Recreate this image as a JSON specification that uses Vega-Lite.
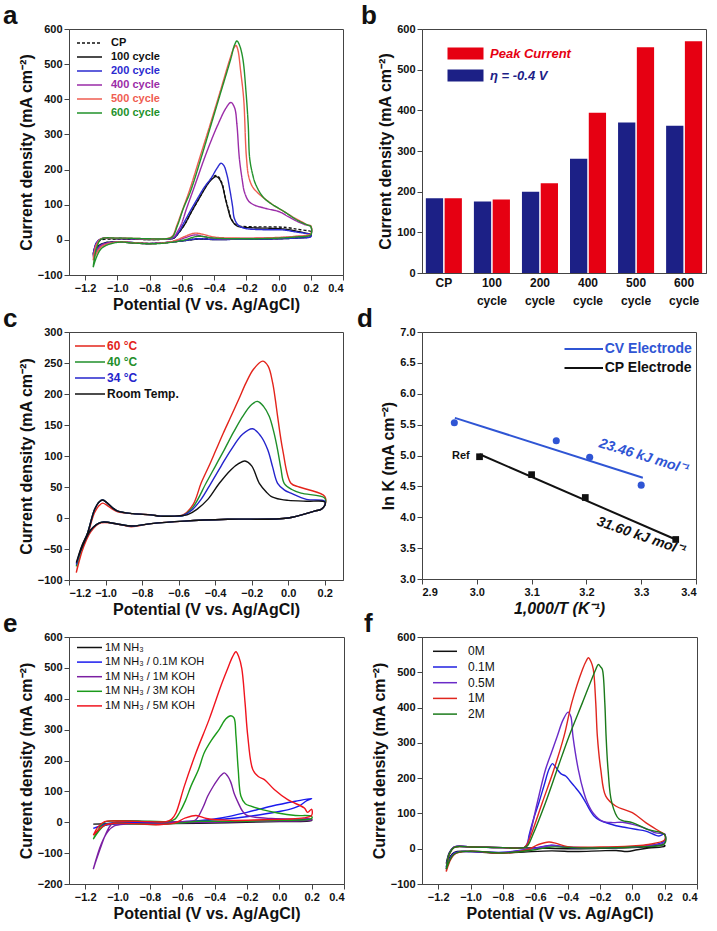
{
"$schema": "https://vega.github.io/schema/vega-lite/v6.json",
"background": "white",
"padding": {"left": 2, "top": 2, "right": 4, "bottom": 2},
"autosize": {"type": "pad"},
"datasets": {
"a": [
{"s":"CP","x":-1.15,"y":-45},{"s":"CP","x":-1.13,"y":-12},{"s":"CP","x":-1.1,"y":0},{"s":"CP","x":-1.0,"y":2},{"s":"CP","x":-0.9,"y":2},{"s":"CP","x":-0.8,"y":1},{"s":"CP","x":-0.7,"y":2},{"s":"CP","x":-0.65,"y":5},{"s":"CP","x":-0.62,"y":20},{"s":"CP","x":-0.585,"y":42},{"s":"CP","x":-0.54,"y":80},{"s":"CP","x":-0.49,"y":120},{"s":"CP","x":-0.44,"y":160},{"s":"CP","x":-0.41,"y":177},{"s":"CP","x":-0.388,"y":183},{"s":"CP","x":-0.37,"y":178},{"s":"CP","x":-0.35,"y":160},{"s":"CP","x":-0.33,"y":120},{"s":"CP","x":-0.31,"y":85},{"s":"CP","x":-0.295,"y":62},{"s":"CP","x":-0.27,"y":45},{"s":"CP","x":-0.25,"y":40},{"s":"CP","x":-0.15,"y":37},{"s":"CP","x":-0.05,"y":37},{"s":"CP","x":0.05,"y":35},{"s":"CP","x":0.12,"y":30},{"s":"CP","x":0.18,"y":26},{"s":"CP","x":0.2,"y":24},{"s":"CP","x":0.2,"y":12},{"s":"CP","x":0.1,"y":6},{"s":"CP","x":0.0,"y":4},{"s":"CP","x":-0.2,"y":3},{"s":"CP","x":-0.4,"y":2},{"s":"CP","x":-0.5,"y":3},{"s":"CP","x":-0.6,"y":-3},{"s":"CP","x":-0.7,"y":-8},{"s":"CP","x":-0.8,"y":-10},{"s":"CP","x":-0.9,"y":-8},{"s":"CP","x":-1.0,"y":-6},{"s":"CP","x":-1.08,"y":-9},{"s":"CP","x":-1.12,"y":-20},{"s":"CP","x":-1.15,"y":-45},
{"s":"100 cycle","x":-1.15,"y":-40},{"s":"100 cycle","x":-1.13,"y":-10},{"s":"100 cycle","x":-1.1,"y":2},{"s":"100 cycle","x":-1.0,"y":3},{"s":"100 cycle","x":-0.9,"y":2},{"s":"100 cycle","x":-0.8,"y":1},{"s":"100 cycle","x":-0.7,"y":2},{"s":"100 cycle","x":-0.65,"y":5},{"s":"100 cycle","x":-0.62,"y":20},{"s":"100 cycle","x":-0.585,"y":42},{"s":"100 cycle","x":-0.54,"y":80},{"s":"100 cycle","x":-0.49,"y":120},{"s":"100 cycle","x":-0.44,"y":158},{"s":"100 cycle","x":-0.41,"y":174},{"s":"100 cycle","x":-0.388,"y":180},{"s":"100 cycle","x":-0.37,"y":175},{"s":"100 cycle","x":-0.35,"y":157},{"s":"100 cycle","x":-0.33,"y":118},{"s":"100 cycle","x":-0.31,"y":82},{"s":"100 cycle","x":-0.295,"y":60},{"s":"100 cycle","x":-0.27,"y":44},{"s":"100 cycle","x":-0.25,"y":38},{"s":"100 cycle","x":-0.15,"y":34},{"s":"100 cycle","x":-0.05,"y":33},{"s":"100 cycle","x":0.05,"y":30},{"s":"100 cycle","x":0.12,"y":24},{"s":"100 cycle","x":0.18,"y":18},{"s":"100 cycle","x":0.2,"y":16},{"s":"100 cycle","x":0.2,"y":10},{"s":"100 cycle","x":0.1,"y":5},{"s":"100 cycle","x":0.0,"y":3},{"s":"100 cycle","x":-0.2,"y":2},{"s":"100 cycle","x":-0.4,"y":1},{"s":"100 cycle","x":-0.5,"y":2},{"s":"100 cycle","x":-0.6,"y":-3},{"s":"100 cycle","x":-0.7,"y":-8},{"s":"100 cycle","x":-0.8,"y":-11},{"s":"100 cycle","x":-0.9,"y":-9},{"s":"100 cycle","x":-1.0,"y":-6},{"s":"100 cycle","x":-1.08,"y":-9},{"s":"100 cycle","x":-1.12,"y":-18},{"s":"100 cycle","x":-1.15,"y":-40},
{"s":"200 cycle","x":-1.15,"y":-42},{"s":"200 cycle","x":-1.13,"y":-8},{"s":"200 cycle","x":-1.1,"y":3},{"s":"200 cycle","x":-1.0,"y":4},{"s":"200 cycle","x":-0.8,"y":2},{"s":"200 cycle","x":-0.7,"y":2},{"s":"200 cycle","x":-0.65,"y":6},{"s":"200 cycle","x":-0.62,"y":22},{"s":"200 cycle","x":-0.595,"y":42},{"s":"200 cycle","x":-0.55,"y":80},{"s":"200 cycle","x":-0.502,"y":118},{"s":"200 cycle","x":-0.46,"y":150},{"s":"200 cycle","x":-0.419,"y":175},{"s":"200 cycle","x":-0.38,"y":205},{"s":"200 cycle","x":-0.357,"y":218},{"s":"200 cycle","x":-0.34,"y":212},{"s":"200 cycle","x":-0.32,"y":185},{"s":"200 cycle","x":-0.3,"y":137},{"s":"200 cycle","x":-0.285,"y":95},{"s":"200 cycle","x":-0.274,"y":61},{"s":"200 cycle","x":-0.25,"y":42},{"s":"200 cycle","x":-0.212,"y":33},{"s":"200 cycle","x":-0.1,"y":29},{"s":"200 cycle","x":0.036,"y":28},{"s":"200 cycle","x":0.1,"y":23},{"s":"200 cycle","x":0.16,"y":19},{"s":"200 cycle","x":0.2,"y":15},{"s":"200 cycle","x":0.2,"y":9},{"s":"200 cycle","x":0.1,"y":5},{"s":"200 cycle","x":0.0,"y":3},{"s":"200 cycle","x":-0.2,"y":2},{"s":"200 cycle","x":-0.4,"y":1},{"s":"200 cycle","x":-0.5,"y":3},{"s":"200 cycle","x":-0.6,"y":-3},{"s":"200 cycle","x":-0.8,"y":-10},{"s":"200 cycle","x":-1.0,"y":-6},{"s":"200 cycle","x":-1.1,"y":-14},{"s":"200 cycle","x":-1.15,"y":-42},
{"s":"400 cycle","x":-1.15,"y":-50},{"s":"400 cycle","x":-1.13,"y":-12},{"s":"400 cycle","x":-1.1,"y":3},{"s":"400 cycle","x":-1.0,"y":4},{"s":"400 cycle","x":-0.8,"y":2},{"s":"400 cycle","x":-0.7,"y":2},{"s":"400 cycle","x":-0.65,"y":8},{"s":"400 cycle","x":-0.625,"y":25},{"s":"400 cycle","x":-0.605,"y":42},{"s":"400 cycle","x":-0.57,"y":90},{"s":"400 cycle","x":-0.533,"y":137},{"s":"400 cycle","x":-0.5,"y":180},{"s":"400 cycle","x":-0.46,"y":232},{"s":"400 cycle","x":-0.42,"y":280},{"s":"400 cycle","x":-0.377,"y":327},{"s":"400 cycle","x":-0.326,"y":375},{"s":"400 cycle","x":-0.295,"y":391},{"s":"400 cycle","x":-0.272,"y":375},{"s":"400 cycle","x":-0.258,"y":327},{"s":"400 cycle","x":-0.243,"y":232},{"s":"400 cycle","x":-0.225,"y":170},{"s":"400 cycle","x":-0.212,"y":137},{"s":"400 cycle","x":-0.185,"y":110},{"s":"400 cycle","x":-0.15,"y":99},{"s":"400 cycle","x":-0.1,"y":92},{"s":"400 cycle","x":-0.067,"y":88},{"s":"400 cycle","x":0.005,"y":80},{"s":"400 cycle","x":0.06,"y":66},{"s":"400 cycle","x":0.119,"y":52},{"s":"400 cycle","x":0.16,"y":44},{"s":"400 cycle","x":0.2,"y":38},{"s":"400 cycle","x":0.2,"y":16},{"s":"400 cycle","x":0.1,"y":9},{"s":"400 cycle","x":0.0,"y":6},{"s":"400 cycle","x":-0.2,"y":4},{"s":"400 cycle","x":-0.4,"y":4},{"s":"400 cycle","x":-0.47,"y":10},{"s":"400 cycle","x":-0.52,"y":14},{"s":"400 cycle","x":-0.58,"y":6},{"s":"400 cycle","x":-0.65,"y":-4},{"s":"400 cycle","x":-0.8,"y":-11},{"s":"400 cycle","x":-1.0,"y":-6},{"s":"400 cycle","x":-1.1,"y":-16},{"s":"400 cycle","x":-1.15,"y":-50},
{"s":"500 cycle","x":-1.15,"y":-58},{"s":"500 cycle","x":-1.13,"y":-14},{"s":"500 cycle","x":-1.1,"y":3},{"s":"500 cycle","x":-1.0,"y":5},{"s":"500 cycle","x":-0.8,"y":3},{"s":"500 cycle","x":-0.7,"y":3},{"s":"500 cycle","x":-0.66,"y":10},{"s":"500 cycle","x":-0.63,"y":42},{"s":"500 cycle","x":-0.6,"y":80},{"s":"500 cycle","x":-0.555,"y":137},{"s":"500 cycle","x":-0.49,"y":232},{"s":"500 cycle","x":-0.425,"y":327},{"s":"500 cycle","x":-0.362,"y":422},{"s":"500 cycle","x":-0.3,"y":517},{"s":"500 cycle","x":-0.278,"y":545},{"s":"500 cycle","x":-0.264,"y":553},{"s":"500 cycle","x":-0.252,"y":540},{"s":"500 cycle","x":-0.235,"y":480},{"s":"500 cycle","x":-0.216,"y":400},{"s":"500 cycle","x":-0.2,"y":240},{"s":"500 cycle","x":-0.185,"y":180},{"s":"500 cycle","x":-0.16,"y":150},{"s":"500 cycle","x":-0.12,"y":130},{"s":"500 cycle","x":-0.088,"y":118},{"s":"500 cycle","x":-0.02,"y":95},{"s":"500 cycle","x":0.036,"y":80},{"s":"500 cycle","x":0.1,"y":62},{"s":"500 cycle","x":0.15,"y":50},{"s":"500 cycle","x":0.181,"y":42},{"s":"500 cycle","x":0.2,"y":40},{"s":"500 cycle","x":0.2,"y":18},{"s":"500 cycle","x":0.1,"y":10},{"s":"500 cycle","x":0.0,"y":7},{"s":"500 cycle","x":-0.2,"y":5},{"s":"500 cycle","x":-0.4,"y":8},{"s":"500 cycle","x":-0.47,"y":16},{"s":"500 cycle","x":-0.522,"y":19},{"s":"500 cycle","x":-0.58,"y":10},{"s":"500 cycle","x":-0.65,"y":-3},{"s":"500 cycle","x":-0.76,"y":-10},{"s":"500 cycle","x":-0.9,"y":-8},{"s":"500 cycle","x":-1.0,"y":-6},{"s":"500 cycle","x":-1.1,"y":-20},{"s":"500 cycle","x":-1.15,"y":-58},
{"s":"600 cycle","x":-1.15,"y":-78},{"s":"600 cycle","x":-1.13,"y":-25},{"s":"600 cycle","x":-1.1,"y":2},{"s":"600 cycle","x":-1.0,"y":5},{"s":"600 cycle","x":-0.8,"y":3},{"s":"600 cycle","x":-0.7,"y":3},{"s":"600 cycle","x":-0.66,"y":8},{"s":"600 cycle","x":-0.626,"y":42},{"s":"600 cycle","x":-0.59,"y":90},{"s":"600 cycle","x":-0.547,"y":137},{"s":"600 cycle","x":-0.481,"y":232},{"s":"600 cycle","x":-0.419,"y":327},{"s":"600 cycle","x":-0.357,"y":422},{"s":"600 cycle","x":-0.295,"y":517},{"s":"600 cycle","x":-0.275,"y":552},{"s":"600 cycle","x":-0.258,"y":566},{"s":"600 cycle","x":-0.243,"y":555},{"s":"600 cycle","x":-0.222,"y":517},{"s":"600 cycle","x":-0.202,"y":422},{"s":"600 cycle","x":-0.188,"y":327},{"s":"600 cycle","x":-0.179,"y":232},{"s":"600 cycle","x":-0.16,"y":185},{"s":"600 cycle","x":-0.14,"y":156},{"s":"600 cycle","x":-0.088,"y":118},{"s":"600 cycle","x":0.036,"y":80},{"s":"600 cycle","x":0.12,"y":55},{"s":"600 cycle","x":0.181,"y":42},{"s":"600 cycle","x":0.2,"y":38},{"s":"600 cycle","x":0.2,"y":15},{"s":"600 cycle","x":0.1,"y":8},{"s":"600 cycle","x":0.0,"y":5},{"s":"600 cycle","x":-0.2,"y":3},{"s":"600 cycle","x":-0.4,"y":5},{"s":"600 cycle","x":-0.5,"y":10},{"s":"600 cycle","x":-0.6,"y":-2},{"s":"600 cycle","x":-0.76,"y":-11},{"s":"600 cycle","x":-0.9,"y":-9},{"s":"600 cycle","x":-1.0,"y":-7},{"s":"600 cycle","x":-1.1,"y":-25},{"s":"600 cycle","x":-1.15,"y":-78}
],
"b": [
{"c":"CP","s":"η = -0.4 V","v":184},{"c":"CP","s":"Peak Current","v":184},
{"c":"100 cycle","s":"η = -0.4 V","v":176},{"c":"100 cycle","s":"Peak Current","v":181},
{"c":"200 cycle","s":"η = -0.4 V","v":200},{"c":"200 cycle","s":"Peak Current","v":221},
{"c":"400 cycle","s":"η = -0.4 V","v":281},{"c":"400 cycle","s":"Peak Current","v":394},
{"c":"500 cycle","s":"η = -0.4 V","v":370},{"c":"500 cycle","s":"Peak Current","v":555},
{"c":"600 cycle","s":"η = -0.4 V","v":362},{"c":"600 cycle","s":"Peak Current","v":570}
],
"c": [
{"s":"60 °C","x":-1.16,"y":-88},{"s":"60 °C","x":-1.13,"y":-55},{"s":"60 °C","x":-1.098,"y":-28},{"s":"60 °C","x":-1.061,"y":8},{"s":"60 °C","x":-1.035,"y":20},{"s":"60 °C","x":-1.016,"y":24},{"s":"60 °C","x":-0.99,"y":20},{"s":"60 °C","x":-0.96,"y":14},{"s":"60 °C","x":-0.933,"y":10},{"s":"60 °C","x":-0.85,"y":7},{"s":"60 °C","x":-0.751,"y":5},{"s":"60 °C","x":-0.7,"y":3},{"s":"60 °C","x":-0.62,"y":3},{"s":"60 °C","x":-0.575,"y":5},{"s":"60 °C","x":-0.52,"y":22},{"s":"60 °C","x":-0.477,"y":56},{"s":"60 °C","x":-0.435,"y":83},{"s":"60 °C","x":-0.395,"y":110},{"s":"60 °C","x":-0.355,"y":137},{"s":"60 °C","x":-0.313,"y":164},{"s":"60 °C","x":-0.27,"y":192},{"s":"60 °C","x":-0.231,"y":218},{"s":"60 °C","x":-0.19,"y":240},{"s":"60 °C","x":-0.14,"y":253},{"s":"60 °C","x":-0.11,"y":245},{"s":"60 °C","x":-0.085,"y":218},{"s":"60 °C","x":-0.07,"y":190},{"s":"60 °C","x":-0.058,"y":164},{"s":"60 °C","x":-0.03,"y":110},{"s":"60 °C","x":0.015,"y":56},{"s":"60 °C","x":0.06,"y":50},{"s":"60 °C","x":0.107,"y":46},{"s":"60 °C","x":0.2,"y":35},{"s":"60 °C","x":0.2,"y":20},{"s":"60 °C","x":0.18,"y":14},{"s":"60 °C","x":0.143,"y":11},{"s":"60 °C","x":0.0,"y":0},{"s":"60 °C","x":-0.331,"y":-2},{"s":"60 °C","x":-0.569,"y":-5},{"s":"60 °C","x":-0.75,"y":-9},{"s":"60 °C","x":-0.86,"y":-14},{"s":"60 °C","x":-0.93,"y":-10},{"s":"60 °C","x":-1.025,"y":-8},{"s":"60 °C","x":-1.08,"y":-22},{"s":"60 °C","x":-1.134,"y":-58},{"s":"60 °C","x":-1.16,"y":-88},
{"s":"40 °C","x":-1.16,"y":-78},{"s":"40 °C","x":-1.13,"y":-48},{"s":"40 °C","x":-1.098,"y":-24},{"s":"40 °C","x":-1.061,"y":13},{"s":"40 °C","x":-1.035,"y":26},{"s":"40 °C","x":-1.016,"y":29},{"s":"40 °C","x":-0.99,"y":24},{"s":"40 °C","x":-0.96,"y":16},{"s":"40 °C","x":-0.933,"y":11},{"s":"40 °C","x":-0.85,"y":7},{"s":"40 °C","x":-0.751,"y":5},{"s":"40 °C","x":-0.7,"y":3},{"s":"40 °C","x":-0.62,"y":3},{"s":"40 °C","x":-0.575,"y":4},{"s":"40 °C","x":-0.52,"y":18},{"s":"40 °C","x":-0.45,"y":56},{"s":"40 °C","x":-0.4,"y":83},{"s":"40 °C","x":-0.35,"y":110},{"s":"40 °C","x":-0.3,"y":138},{"s":"40 °C","x":-0.249,"y":164},{"s":"40 °C","x":-0.2,"y":183},{"s":"40 °C","x":-0.167,"y":188},{"s":"40 °C","x":-0.135,"y":180},{"s":"40 °C","x":-0.104,"y":164},{"s":"40 °C","x":-0.08,"y":140},{"s":"40 °C","x":-0.058,"y":110},{"s":"40 °C","x":-0.04,"y":80},{"s":"40 °C","x":-0.022,"y":56},{"s":"40 °C","x":0.02,"y":46},{"s":"40 °C","x":0.07,"y":40},{"s":"40 °C","x":0.2,"y":32},{"s":"40 °C","x":0.2,"y":20},{"s":"40 °C","x":0.18,"y":14},{"s":"40 °C","x":0.143,"y":11},{"s":"40 °C","x":0.0,"y":0},{"s":"40 °C","x":-0.331,"y":-2},{"s":"40 °C","x":-0.569,"y":-5},{"s":"40 °C","x":-0.75,"y":-9},{"s":"40 °C","x":-0.86,"y":-13},{"s":"40 °C","x":-0.93,"y":-10},{"s":"40 °C","x":-1.025,"y":-7},{"s":"40 °C","x":-1.08,"y":-19},{"s":"40 °C","x":-1.134,"y":-51},{"s":"40 °C","x":-1.16,"y":-78},
{"s":"34 °C","x":-1.16,"y":-75},{"s":"34 °C","x":-1.13,"y":-46},{"s":"34 °C","x":-1.098,"y":-24},{"s":"34 °C","x":-1.061,"y":13},{"s":"34 °C","x":-1.035,"y":26},{"s":"34 °C","x":-1.016,"y":29},{"s":"34 °C","x":-0.99,"y":24},{"s":"34 °C","x":-0.96,"y":16},{"s":"34 °C","x":-0.933,"y":11},{"s":"34 °C","x":-0.85,"y":7},{"s":"34 °C","x":-0.751,"y":5},{"s":"34 °C","x":-0.7,"y":3},{"s":"34 °C","x":-0.62,"y":3},{"s":"34 °C","x":-0.575,"y":4},{"s":"34 °C","x":-0.53,"y":12},{"s":"34 °C","x":-0.477,"y":30},{"s":"34 °C","x":-0.423,"y":56},{"s":"34 °C","x":-0.365,"y":85},{"s":"34 °C","x":-0.313,"y":110},{"s":"34 °C","x":-0.25,"y":135},{"s":"34 °C","x":-0.195,"y":144},{"s":"34 °C","x":-0.15,"y":132},{"s":"34 °C","x":-0.112,"y":110},{"s":"34 °C","x":-0.085,"y":82},{"s":"34 °C","x":-0.058,"y":56},{"s":"34 °C","x":-0.02,"y":45},{"s":"34 °C","x":0.015,"y":40},{"s":"34 °C","x":0.1,"y":30},{"s":"34 °C","x":0.2,"y":27},{"s":"34 °C","x":0.2,"y":20},{"s":"34 °C","x":0.18,"y":14},{"s":"34 °C","x":0.143,"y":11},{"s":"34 °C","x":0.0,"y":0},{"s":"34 °C","x":-0.331,"y":-2},{"s":"34 °C","x":-0.569,"y":-5},{"s":"34 °C","x":-0.75,"y":-9},{"s":"34 °C","x":-0.86,"y":-13},{"s":"34 °C","x":-0.93,"y":-10},{"s":"34 °C","x":-1.025,"y":-7},{"s":"34 °C","x":-1.08,"y":-19},{"s":"34 °C","x":-1.134,"y":-51},{"s":"34 °C","x":-1.16,"y":-75},
{"s":"Room Temp.","x":-1.16,"y":-72},{"s":"Room Temp.","x":-1.13,"y":-45},{"s":"Room Temp.","x":-1.098,"y":-24},{"s":"Room Temp.","x":-1.061,"y":13},{"s":"Room Temp.","x":-1.035,"y":26},{"s":"Room Temp.","x":-1.016,"y":29},{"s":"Room Temp.","x":-0.99,"y":24},{"s":"Room Temp.","x":-0.96,"y":16},{"s":"Room Temp.","x":-0.933,"y":11},{"s":"Room Temp.","x":-0.85,"y":7},{"s":"Room Temp.","x":-0.751,"y":5},{"s":"Room Temp.","x":-0.7,"y":3},{"s":"Room Temp.","x":-0.62,"y":3},{"s":"Room Temp.","x":-0.575,"y":4},{"s":"Room Temp.","x":-0.55,"y":5.5},{"s":"Room Temp.","x":-0.5,"y":14},{"s":"Room Temp.","x":-0.44,"y":30},{"s":"Room Temp.","x":-0.377,"y":56},{"s":"Room Temp.","x":-0.313,"y":78},{"s":"Room Temp.","x":-0.27,"y":88},{"s":"Room Temp.","x":-0.237,"y":92},{"s":"Room Temp.","x":-0.2,"y":84},{"s":"Room Temp.","x":-0.158,"y":56},{"s":"Room Temp.","x":-0.12,"y":42},{"s":"Room Temp.","x":-0.094,"y":35},{"s":"Room Temp.","x":-0.04,"y":30},{"s":"Room Temp.","x":0.0,"y":28.5},{"s":"Room Temp.","x":0.1,"y":27},{"s":"Room Temp.","x":0.2,"y":26},{"s":"Room Temp.","x":0.2,"y":20},{"s":"Room Temp.","x":0.18,"y":14},{"s":"Room Temp.","x":0.143,"y":11},{"s":"Room Temp.","x":0.0,"y":0},{"s":"Room Temp.","x":-0.331,"y":-2},{"s":"Room Temp.","x":-0.569,"y":-5},{"s":"Room Temp.","x":-0.75,"y":-9},{"s":"Room Temp.","x":-0.86,"y":-13},{"s":"Room Temp.","x":-0.93,"y":-10},{"s":"Room Temp.","x":-1.025,"y":-7},{"s":"Room Temp.","x":-1.08,"y":-19},{"s":"Room Temp.","x":-1.134,"y":-51},{"s":"Room Temp.","x":-1.16,"y":-72}
],
"dfit": [
{"s":"CV Electrode","x":2.96,"y":5.61},{"s":"CV Electrode","x":3.303,"y":4.64},
{"s":"CP Electrode","x":3.005,"y":5.02},{"s":"CP Electrode","x":3.363,"y":3.64}
],
"dcv": [
{"s":"CV Electrode","x":2.959,"y":5.53},{"s":"CV Electrode","x":3.145,"y":5.24},{"s":"CV Electrode","x":3.206,"y":4.97},{"s":"CV Electrode","x":3.3,"y":4.52}
],
"dcp": [
{"s":"CP Electrode","x":3.005,"y":4.98},{"s":"CP Electrode","x":3.1,"y":4.69},{"s":"CP Electrode","x":3.198,"y":4.32},{"s":"CP Electrode","x":3.363,"y":3.64}
],
"e": [
{"s":"1M NH₃","x":-1.15,"y":-6},{"s":"1M NH₃","x":-1.0,"y":-4},{"s":"1M NH₃","x":-0.5,"y":-1},{"s":"1M NH₃","x":0.0,"y":4},{"s":"1M NH₃","x":0.2,"y":8},{"s":"1M NH₃","x":0.2,"y":6},{"s":"1M NH₃","x":0.0,"y":2},{"s":"1M NH₃","x":-0.5,"y":-3},{"s":"1M NH₃","x":-1.0,"y":-5},{"s":"1M NH₃","x":-1.15,"y":-6},
{"s":"1M NH₃ / 0.1M KOH","x":-1.15,"y":-20},{"s":"1M NH₃ / 0.1M KOH","x":-1.1,"y":-10},{"s":"1M NH₃ / 0.1M KOH","x":-1.05,"y":-3},{"s":"1M NH₃ / 0.1M KOH","x":-1.0,"y":0},{"s":"1M NH₃ / 0.1M KOH","x":-0.8,"y":2},{"s":"1M NH₃ / 0.1M KOH","x":-0.6,"y":2},{"s":"1M NH₃ / 0.1M KOH","x":-0.5,"y":5},{"s":"1M NH₃ / 0.1M KOH","x":-0.35,"y":15},{"s":"1M NH₃ / 0.1M KOH","x":-0.2,"y":32},{"s":"1M NH₃ / 0.1M KOH","x":-0.05,"y":52},{"s":"1M NH₃ / 0.1M KOH","x":0.1,"y":68},{"s":"1M NH₃ / 0.1M KOH","x":0.2,"y":77},{"s":"1M NH₃ / 0.1M KOH","x":0.17,"y":70},{"s":"1M NH₃ / 0.1M KOH","x":0.12,"y":52},{"s":"1M NH₃ / 0.1M KOH","x":0.05,"y":40},{"s":"1M NH₃ / 0.1M KOH","x":0.0,"y":35},{"s":"1M NH₃ / 0.1M KOH","x":-0.15,"y":22},{"s":"1M NH₃ / 0.1M KOH","x":-0.3,"y":12},{"s":"1M NH₃ / 0.1M KOH","x":-0.45,"y":6},{"s":"1M NH₃ / 0.1M KOH","x":-0.6,"y":1},{"s":"1M NH₃ / 0.1M KOH","x":-0.8,"y":-2},{"s":"1M NH₃ / 0.1M KOH","x":-1.0,"y":-4},{"s":"1M NH₃ / 0.1M KOH","x":-1.1,"y":-12},{"s":"1M NH₃ / 0.1M KOH","x":-1.15,"y":-20},
{"s":"1M NH₃ / 1M KOH","x":-1.15,"y":-152},{"s":"1M NH₃ / 1M KOH","x":-1.13,"y":-120},{"s":"1M NH₃ / 1M KOH","x":-1.1,"y":-75},{"s":"1M NH₃ / 1M KOH","x":-1.07,"y":-35},{"s":"1M NH₃ / 1M KOH","x":-1.04,"y":-8},{"s":"1M NH₃ / 1M KOH","x":-1.0,"y":3},{"s":"1M NH₃ / 1M KOH","x":-0.8,"y":2},{"s":"1M NH₃ / 1M KOH","x":-0.6,"y":2},{"s":"1M NH₃ / 1M KOH","x":-0.525,"y":5},{"s":"1M NH₃ / 1M KOH","x":-0.505,"y":15},{"s":"1M NH₃ / 1M KOH","x":-0.47,"y":50},{"s":"1M NH₃ / 1M KOH","x":-0.443,"y":84},{"s":"1M NH₃ / 1M KOH","x":-0.41,"y":115},{"s":"1M NH₃ / 1M KOH","x":-0.381,"y":138},{"s":"1M NH₃ / 1M KOH","x":-0.36,"y":152},{"s":"1M NH₃ / 1M KOH","x":-0.34,"y":160},{"s":"1M NH₃ / 1M KOH","x":-0.32,"y":150},{"s":"1M NH₃ / 1M KOH","x":-0.3,"y":130},{"s":"1M NH₃ / 1M KOH","x":-0.28,"y":95},{"s":"1M NH₃ / 1M KOH","x":-0.253,"y":62},{"s":"1M NH₃ / 1M KOH","x":-0.23,"y":38},{"s":"1M NH₃ / 1M KOH","x":-0.206,"y":24},{"s":"1M NH₃ / 1M KOH","x":-0.15,"y":16},{"s":"1M NH₃ / 1M KOH","x":-0.05,"y":12},{"s":"1M NH₃ / 1M KOH","x":0.1,"y":10},{"s":"1M NH₃ / 1M KOH","x":0.2,"y":10},{"s":"1M NH₃ / 1M KOH","x":0.2,"y":7},{"s":"1M NH₃ / 1M KOH","x":0.0,"y":4},{"s":"1M NH₃ / 1M KOH","x":-0.4,"y":0},{"s":"1M NH₃ / 1M KOH","x":-0.6,"y":-2},{"s":"1M NH₃ / 1M KOH","x":-0.8,"y":-4},{"s":"1M NH₃ / 1M KOH","x":-0.95,"y":-6},{"s":"1M NH₃ / 1M KOH","x":-1.02,"y":-12},{"s":"1M NH₃ / 1M KOH","x":-1.06,"y":-30},{"s":"1M NH₃ / 1M KOH","x":-1.1,"y":-70},{"s":"1M NH₃ / 1M KOH","x":-1.15,"y":-152},
{"s":"1M NH₃ / 3M KOH","x":-1.15,"y":-55},{"s":"1M NH₃ / 3M KOH","x":-1.12,"y":-25},{"s":"1M NH₃ / 3M KOH","x":-1.08,"y":0},{"s":"1M NH₃ / 3M KOH","x":-1.0,"y":5},{"s":"1M NH₃ / 3M KOH","x":-0.8,"y":3},{"s":"1M NH₃ / 3M KOH","x":-0.68,"y":3},{"s":"1M NH₃ / 3M KOH","x":-0.645,"y":10},{"s":"1M NH₃ / 3M KOH","x":-0.618,"y":30},{"s":"1M NH₃ / 3M KOH","x":-0.58,"y":70},{"s":"1M NH₃ / 3M KOH","x":-0.546,"y":117},{"s":"1M NH₃ / 3M KOH","x":-0.5,"y":170},{"s":"1M NH₃ / 3M KOH","x":-0.464,"y":225},{"s":"1M NH₃ / 3M KOH","x":-0.42,"y":265},{"s":"1M NH₃ / 3M KOH","x":-0.371,"y":301},{"s":"1M NH₃ / 3M KOH","x":-0.33,"y":335},{"s":"1M NH₃ / 3M KOH","x":-0.299,"y":345},{"s":"1M NH₃ / 3M KOH","x":-0.28,"y":338},{"s":"1M NH₃ / 3M KOH","x":-0.268,"y":280},{"s":"1M NH₃ / 3M KOH","x":-0.254,"y":171},{"s":"1M NH₃ / 3M KOH","x":-0.237,"y":84},{"s":"1M NH₃ / 3M KOH","x":-0.21,"y":60},{"s":"1M NH₃ / 3M KOH","x":-0.175,"y":52},{"s":"1M NH₃ / 3M KOH","x":-0.1,"y":40},{"s":"1M NH₃ / 3M KOH","x":-0.01,"y":30},{"s":"1M NH₃ / 3M KOH","x":0.1,"y":22},{"s":"1M NH₃ / 3M KOH","x":0.2,"y":19},{"s":"1M NH₃ / 3M KOH","x":0.2,"y":12},{"s":"1M NH₃ / 3M KOH","x":0.0,"y":6},{"s":"1M NH₃ / 3M KOH","x":-0.3,"y":3},{"s":"1M NH₃ / 3M KOH","x":-0.5,"y":3},{"s":"1M NH₃ / 3M KOH","x":-0.6,"y":-2},{"s":"1M NH₃ / 3M KOH","x":-0.75,"y":-7},{"s":"1M NH₃ / 3M KOH","x":-0.9,"y":-5},{"s":"1M NH₃ / 3M KOH","x":-1.0,"y":-3},{"s":"1M NH₃ / 3M KOH","x":-1.08,"y":-10},{"s":"1M NH₃ / 3M KOH","x":-1.15,"y":-55},
{"s":"1M NH₃ / 5M KOH","x":-1.15,"y":-42},{"s":"1M NH₃ / 5M KOH","x":-1.12,"y":-15},{"s":"1M NH₃ / 5M KOH","x":-1.08,"y":2},{"s":"1M NH₃ / 5M KOH","x":-1.0,"y":4},{"s":"1M NH₃ / 5M KOH","x":-0.8,"y":2},{"s":"1M NH₃ / 5M KOH","x":-0.7,"y":2},{"s":"1M NH₃ / 5M KOH","x":-0.665,"y":10},{"s":"1M NH₃ / 5M KOH","x":-0.639,"y":30},{"s":"1M NH₃ / 5M KOH","x":-0.587,"y":117},{"s":"1M NH₃ / 5M KOH","x":-0.515,"y":225},{"s":"1M NH₃ / 5M KOH","x":-0.433,"y":334},{"s":"1M NH₃ / 5M KOH","x":-0.36,"y":443},{"s":"1M NH₃ / 5M KOH","x":-0.319,"y":498},{"s":"1M NH₃ / 5M KOH","x":-0.29,"y":535},{"s":"1M NH₃ / 5M KOH","x":-0.268,"y":552},{"s":"1M NH₃ / 5M KOH","x":-0.25,"y":535},{"s":"1M NH₃ / 5M KOH","x":-0.232,"y":498},{"s":"1M NH₃ / 5M KOH","x":-0.212,"y":389},{"s":"1M NH₃ / 5M KOH","x":-0.195,"y":280},{"s":"1M NH₃ / 5M KOH","x":-0.164,"y":171},{"s":"1M NH₃ / 5M KOH","x":-0.13,"y":148},{"s":"1M NH₃ / 5M KOH","x":-0.092,"y":138},{"s":"1M NH₃ / 5M KOH","x":-0.031,"y":106},{"s":"1M NH₃ / 5M KOH","x":0.052,"y":73},{"s":"1M NH₃ / 5M KOH","x":0.155,"y":46},{"s":"1M NH₃ / 5M KOH","x":0.175,"y":32},{"s":"1M NH₃ / 5M KOH","x":0.2,"y":42},{"s":"1M NH₃ / 5M KOH","x":0.2,"y":22},{"s":"1M NH₃ / 5M KOH","x":0.15,"y":14},{"s":"1M NH₃ / 5M KOH","x":0.05,"y":10},{"s":"1M NH₃ / 5M KOH","x":-0.1,"y":8},{"s":"1M NH₃ / 5M KOH","x":-0.3,"y":6},{"s":"1M NH₃ / 5M KOH","x":-0.45,"y":12},{"s":"1M NH₃ / 5M KOH","x":-0.515,"y":22},{"s":"1M NH₃ / 5M KOH","x":-0.58,"y":14},{"s":"1M NH₃ / 5M KOH","x":-0.65,"y":-3},{"s":"1M NH₃ / 5M KOH","x":-0.752,"y":-8},{"s":"1M NH₃ / 5M KOH","x":-0.85,"y":-6},{"s":"1M NH₃ / 5M KOH","x":-1.0,"y":-3},{"s":"1M NH₃ / 5M KOH","x":-1.08,"y":-10},{"s":"1M NH₃ / 5M KOH","x":-1.15,"y":-42}
],
"f": [
{"s":"0M","x":-1.15,"y":-42},{"s":"0M","x":-1.13,"y":-10},{"s":"0M","x":-1.1,"y":5},{"s":"0M","x":-1.0,"y":5},{"s":"0M","x":-0.8,"y":3},{"s":"0M","x":-0.6,"y":2},{"s":"0M","x":-0.4,"y":0},{"s":"0M","x":-0.2,"y":1},{"s":"0M","x":0.0,"y":3},{"s":"0M","x":0.1,"y":6},{"s":"0M","x":0.2,"y":10},{"s":"0M","x":0.2,"y":7},{"s":"0M","x":0.1,"y":2},{"s":"0M","x":0.03,"y":-3},{"s":"0M","x":-0.03,"y":-8},{"s":"0M","x":-0.1,"y":-5},{"s":"0M","x":-0.2,"y":-6},{"s":"0M","x":-0.35,"y":-8},{"s":"0M","x":-0.5,"y":-6},{"s":"0M","x":-0.7,"y":-10},{"s":"0M","x":-0.85,"y":-12},{"s":"0M","x":-1.0,"y":-8},{"s":"0M","x":-1.1,"y":-10},{"s":"0M","x":-1.15,"y":-42},
{"s":"0.1M","x":-1.15,"y":-52},{"s":"0.1M","x":-1.13,"y":-12},{"s":"0.1M","x":-1.1,"y":5},{"s":"0.1M","x":-1.0,"y":5},{"s":"0.1M","x":-0.8,"y":3},{"s":"0.1M","x":-0.67,"y":3},{"s":"0.1M","x":-0.65,"y":10},{"s":"0.1M","x":-0.639,"y":36},{"s":"0.1M","x":-0.61,"y":85},{"s":"0.1M","x":-0.577,"y":131},{"s":"0.1M","x":-0.545,"y":180},{"s":"0.1M","x":-0.515,"y":225},{"s":"0.1M","x":-0.494,"y":241},{"s":"0.1M","x":-0.48,"y":235},{"s":"0.1M","x":-0.464,"y":225},{"s":"0.1M","x":-0.44,"y":212},{"s":"0.1M","x":-0.412,"y":206},{"s":"0.1M","x":-0.385,"y":192},{"s":"0.1M","x":-0.36,"y":178},{"s":"0.1M","x":-0.32,"y":155},{"s":"0.1M","x":-0.288,"y":131},{"s":"0.1M","x":-0.26,"y":108},{"s":"0.1M","x":-0.237,"y":93},{"s":"0.1M","x":-0.2,"y":80},{"s":"0.1M","x":-0.164,"y":74},{"s":"0.1M","x":-0.1,"y":65},{"s":"0.1M","x":-0.04,"y":60},{"s":"0.1M","x":0.02,"y":55},{"s":"0.1M","x":0.083,"y":50},{"s":"0.1M","x":0.165,"y":36},{"s":"0.1M","x":0.2,"y":42},{"s":"0.1M","x":0.2,"y":22},{"s":"0.1M","x":0.1,"y":8},{"s":"0.1M","x":0.0,"y":5},{"s":"0.1M","x":-0.2,"y":3},{"s":"0.1M","x":-0.4,"y":4},{"s":"0.1M","x":-0.5,"y":10},{"s":"0.1M","x":-0.6,"y":2},{"s":"0.1M","x":-0.8,"y":-10},{"s":"0.1M","x":-1.0,"y":-8},{"s":"0.1M","x":-1.1,"y":-12},{"s":"0.1M","x":-1.15,"y":-52},
{"s":"0.5M","x":-1.15,"y":-58},{"s":"0.5M","x":-1.13,"y":-14},{"s":"0.5M","x":-1.1,"y":5},{"s":"0.5M","x":-1.0,"y":5},{"s":"0.5M","x":-0.8,"y":3},{"s":"0.5M","x":-0.67,"y":3},{"s":"0.5M","x":-0.655,"y":10},{"s":"0.5M","x":-0.635,"y":36},{"s":"0.5M","x":-0.587,"y":131},{"s":"0.5M","x":-0.536,"y":225},{"s":"0.5M","x":-0.5,"y":272},{"s":"0.5M","x":-0.464,"y":319},{"s":"0.5M","x":-0.428,"y":365},{"s":"0.5M","x":-0.397,"y":387},{"s":"0.5M","x":-0.38,"y":375},{"s":"0.5M","x":-0.367,"y":319},{"s":"0.5M","x":-0.334,"y":225},{"s":"0.5M","x":-0.3,"y":160},{"s":"0.5M","x":-0.278,"y":131},{"s":"0.5M","x":-0.24,"y":100},{"s":"0.5M","x":-0.185,"y":78},{"s":"0.5M","x":-0.12,"y":74},{"s":"0.5M","x":-0.061,"y":75},{"s":"0.5M","x":0.041,"y":64},{"s":"0.5M","x":0.1,"y":54},{"s":"0.5M","x":0.145,"y":45},{"s":"0.5M","x":0.2,"y":40},{"s":"0.5M","x":0.2,"y":18},{"s":"0.5M","x":0.1,"y":9},{"s":"0.5M","x":0.0,"y":5},{"s":"0.5M","x":-0.2,"y":3},{"s":"0.5M","x":-0.4,"y":4},{"s":"0.5M","x":-0.5,"y":9},{"s":"0.5M","x":-0.6,"y":1},{"s":"0.5M","x":-0.8,"y":-11},{"s":"0.5M","x":-1.0,"y":-8},{"s":"0.5M","x":-1.1,"y":-14},{"s":"0.5M","x":-1.15,"y":-58},
{"s":"1M","x":-1.15,"y":-65},{"s":"1M","x":-1.13,"y":-15},{"s":"1M","x":-1.1,"y":4},{"s":"1M","x":-1.0,"y":5},{"s":"1M","x":-0.8,"y":3},{"s":"1M","x":-0.67,"y":3},{"s":"1M","x":-0.65,"y":12},{"s":"1M","x":-0.628,"y":36},{"s":"1M","x":-0.556,"y":131},{"s":"1M","x":-0.484,"y":225},{"s":"1M","x":-0.422,"y":319},{"s":"1M","x":-0.374,"y":414},{"s":"1M","x":-0.308,"y":508},{"s":"1M","x":-0.285,"y":532},{"s":"1M","x":-0.272,"y":541},{"s":"1M","x":-0.255,"y":530},{"s":"1M","x":-0.241,"y":508},{"s":"1M","x":-0.226,"y":414},{"s":"1M","x":-0.216,"y":319},{"s":"1M","x":-0.195,"y":225},{"s":"1M","x":-0.164,"y":149},{"s":"1M","x":-0.103,"y":121},{"s":"1M","x":0.0,"y":102},{"s":"1M","x":0.083,"y":74},{"s":"1M","x":0.165,"y":50},{"s":"1M","x":0.2,"y":40},{"s":"1M","x":0.2,"y":25},{"s":"1M","x":0.1,"y":12},{"s":"1M","x":0.0,"y":8},{"s":"1M","x":-0.2,"y":5},{"s":"1M","x":-0.4,"y":6},{"s":"1M","x":-0.47,"y":15},{"s":"1M","x":-0.515,"y":19},{"s":"1M","x":-0.58,"y":12},{"s":"1M","x":-0.65,"y":-3},{"s":"1M","x":-0.8,"y":-13},{"s":"1M","x":-1.0,"y":-7},{"s":"1M","x":-1.1,"y":-16},{"s":"1M","x":-1.15,"y":-65},
{"s":"2M","x":-1.15,"y":-58},{"s":"2M","x":-1.13,"y":-14},{"s":"2M","x":-1.1,"y":4},{"s":"2M","x":-1.0,"y":5},{"s":"2M","x":-0.8,"y":3},{"s":"2M","x":-0.67,"y":3},{"s":"2M","x":-0.645,"y":10},{"s":"2M","x":-0.618,"y":36},{"s":"2M","x":-0.536,"y":131},{"s":"2M","x":-0.464,"y":225},{"s":"2M","x":-0.391,"y":319},{"s":"2M","x":-0.308,"y":414},{"s":"2M","x":-0.226,"y":508},{"s":"2M","x":-0.21,"y":522},{"s":"2M","x":-0.195,"y":515},{"s":"2M","x":-0.185,"y":508},{"s":"2M","x":-0.17,"y":414},{"s":"2M","x":-0.162,"y":319},{"s":"2M","x":-0.15,"y":225},{"s":"2M","x":-0.127,"y":131},{"s":"2M","x":-0.082,"y":84},{"s":"2M","x":0.0,"y":74},{"s":"2M","x":0.093,"y":55},{"s":"2M","x":0.2,"y":40},{"s":"2M","x":0.2,"y":15},{"s":"2M","x":0.0,"y":5},{"s":"2M","x":-0.3,"y":2},{"s":"2M","x":-0.5,"y":5},{"s":"2M","x":-0.6,"y":-3},{"s":"2M","x":-0.8,"y":-12},{"s":"2M","x":-1.0,"y":-7},{"s":"2M","x":-1.1,"y":-15},{"s":"2M","x":-1.15,"y":-58}
]
},
"columns": 2,
"spacing": {"row": 57, "column": 78},
"bounds": "flush",
"resolve": {
"scale": {"x": "independent", "y": "independent", "color": "independent", "strokeDash": "independent", "shape": "independent", "xOffset": "independent"},
"axis": {"x": "independent", "y": "independent"},
"legend": {"color": "independent", "strokeDash": "independent", "shape": "independent"}
},
"concat": [
{
"width": 274, "height": 246,
"title": {"text": "a", "frame": "group", "anchor": "start", "dx": -66, "dy": 8},
"data": {"name": "a"},
"mark": {"type": "line", "interpolate": "catmull-rom", "strokeWidth": 1.4},
"encoding": {
"x": {"field": "x", "type": "quantitative", "scale": {"domain": [-1.3, 0.4], "nice": false, "zero": false}, "axis": {"values": [-1.2,-1.0,-0.8,-0.6,-0.4,-0.2,0,0.2,0.4], "format": ".1f", "title": "Potential (V vs. Ag/AgCl)"}},
"y": {"field": "y", "type": "quantitative", "scale": {"domain": [-100, 600], "nice": false}, "axis": {"values": [-100,0,100,200,300,400,500,600], "title": "Current density (mA cm⁻²)"}},
"color": {"field": "s", "type": "nominal", "scale": {"domain": ["CP","100 cycle","200 cycle","400 cycle","500 cycle","600 cycle"], "range": ["#111111","#111111","#2b2bd0","#9b2ca8","#ef5d52","#22922b"]},
"legend": {"orient": "none", "legendX": 14.5, "legendY": 8, "title": null, "symbolType": "M-2.5,0H2.5", "symbolSize": 100, "symbolStrokeWidth": 1.5, "labelOffset": 15.5, "rowPadding": 3, "labelFontSize": 11, "labelFontWeight": "bold",
"labelColor": {"expr": "datum.label == '200 cycle' ? '#2b2bd0' : datum.label == '400 cycle' ? '#9b2ca8' : datum.label == '500 cycle' ? '#ef5d52' : datum.label == '600 cycle' ? '#22922b' : '#111111'"}}},
"strokeDash": {"field": "s", "type": "nominal", "scale": {"domain": ["CP","100 cycle","200 cycle","400 cycle","500 cycle","600 cycle"], "range": [[3,2],[1,0],[1,0],[1,0],[1,0],[1,0]]}},
"order": {"value": null}
}
},
{
"width": 284, "height": 244,
"title": {"text": "b", "frame": "group", "anchor": "start", "dx": -61, "dy": 8},
"data": {"name": "b"},
"mark": {"type": "bar"},
"encoding": {
"x": {"field": "c", "type": "nominal", "sort": null, "scale": {"paddingInner": 0.25, "paddingOuter": 0.08}, "axis": {"title": null, "labelAngle": 0, "ticks": false, "labelExpr": "split(datum.label, ' ')", "labelLineHeight": 18, "labelFontSize": 12, "labelPadding": 4, "labelBaseline": "top"}},
"xOffset": {"field": "s", "type": "nominal", "scale": {"domain": ["η = -0.4 V", "Peak Current"], "paddingInner": 0.08}},
"y": {"field": "v", "type": "quantitative", "scale": {"domain": [0, 600], "nice": false}, "axis": {"values": [0,100,200,300,400,500,600], "title": "Current density (mA cm⁻²)"}},
"color": {"field": "s", "type": "nominal", "scale": {"domain": ["Peak Current", "η = -0.4 V"], "range": ["#e60012", "#1c2086"]},
"legend": {"orient": "none", "legendX": 37, "legendY": 18, "title": null, "symbolType": "M-3,-1H3V1H-3Z", "symbolSize": 144, "symbolStrokeWidth": 0, "symbolOpacity": 1, "labelOffset": 18, "rowPadding": 8, "labelFontSize": 13, "labelFontWeight": "bold", "labelFontStyle": "italic",
"labelColor": {"expr": "datum.label == 'Peak Current' ? '#e60012' : '#1c2086'"}}}
}
},
{
"width": 274, "height": 248,
"title": {"text": "c", "frame": "group", "anchor": "start", "dx": -66, "dy": 8},
"data": {"name": "c"},
"mark": {"type": "line", "interpolate": "catmull-rom", "strokeWidth": 1.4},
"encoding": {
"x": {"field": "x", "type": "quantitative", "scale": {"domain": [-1.2, 0.3], "nice": false, "zero": false}, "axis": {"values": [-1.2,-1.0,-0.8,-0.6,-0.4,-0.2,0,0.2], "format": ".1f", "title": "Potential (V vs. Ag/AgCl)"}},
"y": {"field": "y", "type": "quantitative", "scale": {"domain": [-100, 300], "nice": false}, "axis": {"values": [-100,-50,0,50,100,150,200,250,300], "title": "Current density (mA cm⁻²)"}},
"color": {"field": "s", "type": "nominal", "scale": {"domain": ["60 °C","40 °C","34 °C","Room Temp."], "range": ["#e3241b","#1f8f2a","#2424cc","#111111"]},
"legend": {"orient": "none", "legendX": 15, "legendY": 8, "title": null, "symbolType": "M-3,0H3", "symbolSize": 100, "symbolStrokeWidth": 1.5, "labelOffset": 11, "rowPadding": 4, "labelFontSize": 12, "labelFontWeight": "bold",
"labelColor": {"expr": "datum.label == '60 °C' ? '#e3241b' : datum.label == '40 °C' ? '#1f8f2a' : datum.label == '34 °C' ? '#2424cc' : '#111111'"}}},
"order": {"value": null}
}
},
{
"width": 274, "height": 247,
"title": {"text": "d", "frame": "group", "anchor": "start", "dx": -65, "dy": 8},
"layer": [
{
"data": {"name": "dfit"},
"mark": {"type": "line", "strokeWidth": 2},
"encoding": {
"x": {"field": "x", "type": "quantitative", "scale": {"domain": [2.9, 3.4], "nice": false, "zero": false}, "axis": {"values": [2.9,3.0,3.1,3.2,3.3,3.4], "format": ".1f", "title": "1,000/T (K⁻¹)", "titleFontStyle": "italic"}},
"y": {"field": "y", "type": "quantitative", "scale": {"domain": [3, 7], "nice": false, "zero": false}, "axis": {"values": [3,3.5,4,4.5,5,5.5,6,6.5,7], "format": ".1f", "labelOverlap": false, "title": "ln K (mA cm⁻²)"}},
"color": {"field": "s", "type": "nominal", "scale": {"domain": ["CV Electrode", "CP Electrode"], "range": ["#2f55d4", "#111111"]},
"legend": {"orient": "none", "legendX": 154.75, "legendY": 10, "title": null, "symbolType": "M-3.5,0H3.5", "symbolSize": 121, "symbolStrokeWidth": 2, "labelOffset": 14, "rowPadding": 5, "labelFontSize": 14, "labelFontWeight": "bold",
"labelColor": {"expr": "datum.label == 'CV Electrode' ? '#2f55d4' : '#111111'"}}}
}
},
{
"data": {"name": "dcv"},
"mark": {"type": "point", "filled": true, "shape": "circle", "size": 50, "opacity": 1, "color": "#2f55d4"},
"encoding": {
"x": {"field": "x", "type": "quantitative", "scale": {"domain": [2.9, 3.4], "nice": false, "zero": false}, "axis": {"values": [2.9,3.0,3.1,3.2,3.3,3.4], "format": ".1f", "title": "1,000/T (K⁻¹)", "titleFontStyle": "italic"}},
"y": {"field": "y", "type": "quantitative", "scale": {"domain": [3, 7], "nice": false, "zero": false}, "axis": {"values": [3,3.5,4,4.5,5,5.5,6,6.5,7], "format": ".1f", "labelOverlap": false, "title": "ln K (mA cm⁻²)"}}
}
},
{
"data": {"name": "dcp"},
"mark": {"type": "point", "filled": true, "shape": "square", "size": 45, "opacity": 1, "color": "#111111"},
"encoding": {
"x": {"field": "x", "type": "quantitative", "scale": {"domain": [2.9, 3.4], "nice": false, "zero": false}, "axis": {"values": [2.9,3.0,3.1,3.2,3.3,3.4], "format": ".1f", "title": "1,000/T (K⁻¹)", "titleFontStyle": "italic"}},
"y": {"field": "y", "type": "quantitative", "scale": {"domain": [3, 7], "nice": false, "zero": false}, "axis": {"values": [3,3.5,4,4.5,5,5.5,6,6.5,7], "format": ".1f", "labelOverlap": false, "title": "ln K (mA cm⁻²)"}}
}
},
{
"data": {"values": [{"x": 3.305, "y": 4.98, "t": "23.46 kJ mol⁻¹"}]},
"mark": {"type": "text", "angle": 17, "fontSize": 14, "fontWeight": "bold", "fontStyle": "italic", "color": "#2f55d4"},
"encoding": {
"x": {"field": "x", "type": "quantitative", "scale": {"domain": [2.9, 3.4], "nice": false, "zero": false}, "axis": {"values": [2.9,3.0,3.1,3.2,3.3,3.4], "format": ".1f", "title": "1,000/T (K⁻¹)", "titleFontStyle": "italic"}},
"y": {"field": "y", "type": "quantitative", "scale": {"domain": [3, 7], "nice": false, "zero": false}, "axis": {"values": [3,3.5,4,4.5,5,5.5,6,6.5,7], "format": ".1f", "labelOverlap": false, "title": "ln K (mA cm⁻²)"}},
"text": {"field": "t"}
}
},
{
"data": {"values": [{"x": 3.30, "y": 3.69, "t": "31.60 kJ mol⁻¹"}]},
"mark": {"type": "text", "angle": 19, "fontSize": 14, "fontWeight": "bold", "fontStyle": "italic", "color": "#111111"},
"encoding": {
"x": {"field": "x", "type": "quantitative", "scale": {"domain": [2.9, 3.4], "nice": false, "zero": false}, "axis": {"values": [2.9,3.0,3.1,3.2,3.3,3.4], "format": ".1f", "title": "1,000/T (K⁻¹)", "titleFontStyle": "italic"}},
"y": {"field": "y", "type": "quantitative", "scale": {"domain": [3, 7], "nice": false, "zero": false}, "axis": {"values": [3,3.5,4,4.5,5,5.5,6,6.5,7], "format": ".1f", "labelOverlap": false, "title": "ln K (mA cm⁻²)"}},
"text": {"field": "t"}
}
},
{
"data": {"values": [{"x": 2.971, "y": 5.0, "t": "Ref"}]},
"mark": {"type": "text", "fontSize": 11, "fontWeight": "bold", "color": "#111111"},
"encoding": {
"x": {"field": "x", "type": "quantitative", "scale": {"domain": [2.9, 3.4], "nice": false, "zero": false}, "axis": {"values": [2.9,3.0,3.1,3.2,3.3,3.4], "format": ".1f", "title": "1,000/T (K⁻¹)", "titleFontStyle": "italic"}},
"y": {"field": "y", "type": "quantitative", "scale": {"domain": [3, 7], "nice": false, "zero": false}, "axis": {"values": [3,3.5,4,4.5,5,5.5,6,6.5,7], "format": ".1f", "labelOverlap": false, "title": "ln K (mA cm⁻²)"}},
"text": {"field": "t"}
}
}
]
},
{
"width": 275, "height": 247,
"title": {"text": "e", "frame": "group", "anchor": "start", "dx": -66, "dy": 8},
"data": {"name": "e"},
"mark": {"type": "line", "interpolate": "catmull-rom", "strokeWidth": 1.4},
"encoding": {
"x": {"field": "x", "type": "quantitative", "scale": {"domain": [-1.3, 0.4], "nice": false, "zero": false}, "axis": {"values": [-1.2,-1.0,-0.8,-0.6,-0.4,-0.2,0,0.2,0.4], "format": ".1f", "title": "Potential (V vs. Ag/AgCl)"}},
"y": {"field": "y", "type": "quantitative", "scale": {"domain": [-200, 600], "nice": false}, "axis": {"values": [-200,-100,0,100,200,300,400,500,600], "title": "Current density (mA cm⁻²)"}},
"color": {"field": "s", "type": "nominal", "scale": {"domain": ["1M NH₃","1M NH₃ / 0.1M KOH","1M NH₃ / 1M KOH","1M NH₃ / 3M KOH","1M NH₃ / 5M KOH"], "range": ["#111111","#1a1aee","#7b1fa2","#1b9a1b","#f0141e"]},
"legend": {"orient": "none", "legendX": 14.5, "legendY": 4.5, "title": null, "symbolType": "M-2.5,0H2.5", "symbolSize": 100, "symbolStrokeWidth": 1.5, "labelOffset": 9.5, "rowPadding": 3.6, "labelFontSize": 11, "labelFontWeight": "normal", "labelColor": "#111111"}},
"order": {"value": null}
}
},
{
"width": 275, "height": 247,
"title": {"text": "f", "frame": "group", "anchor": "start", "dx": -58, "dy": 8},
"data": {"name": "f"},
"mark": {"type": "line", "interpolate": "catmull-rom", "strokeWidth": 1.4},
"encoding": {
"x": {"field": "x", "type": "quantitative", "scale": {"domain": [-1.3, 0.4], "nice": false, "zero": false}, "axis": {"values": [-1.2,-1.0,-0.8,-0.6,-0.4,-0.2,0,0.2,0.4], "format": ".1f", "title": "Potential (V vs. Ag/AgCl)"}},
"y": {"field": "y", "type": "quantitative", "scale": {"domain": [-100, 600], "nice": false}, "axis": {"values": [-100,0,100,200,300,400,500,600], "title": "Current density (mA cm⁻²)"}},
"color": {"field": "s", "type": "nominal", "scale": {"domain": ["0M","0.1M","0.5M","1M","2M"], "range": ["#111111","#2020e0","#6a2bc8","#e0261e","#1b7a1b"]},
"legend": {"orient": "none", "legendX": 17, "legendY": 8.3, "title": null, "symbolType": "M-2.4,0H2.4", "symbolSize": 100, "symbolStrokeWidth": 1.5, "labelOffset": 17, "rowPadding": 3.7, "labelFontSize": 12, "labelFontWeight": "normal", "labelColor": "#111111"}},
"order": {"value": null}
}
}
],
"config": {
"font": "Liberation Sans",
"view": {"stroke": "#444444", "strokeWidth": 1},
"axis": {"grid": false, "domainColor": "#444444", "tickColor": "#444444", "tickSize": 5, "labelFont": "Liberation Sans", "labelFontWeight": "bold", "labelFontSize": 11, "labelColor": "#111111", "titleFont": "Liberation Sans", "titleFontWeight": "bold", "titleFontSize": 16, "titleColor": "#111111", "labelPadding": 2, "titlePadding": 3, "labelOverlap": false},
"legend": {"padding": 0, "labelFont": "Liberation Sans", "labelLimit": 250},
"title": {"font": "Liberation Sans", "fontSize": 26, "fontWeight": "bold", "color": "#111111", "offset": 2}
}
}
